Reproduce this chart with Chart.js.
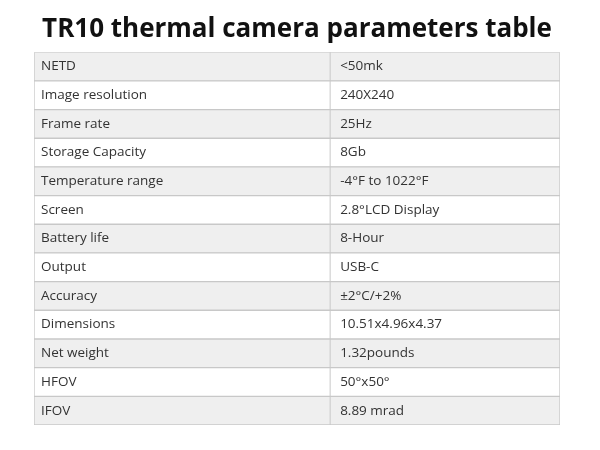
<!DOCTYPE html>
<html>
<head>
<meta charset="utf-8">
<script src="https://cdn.jsdelivr.net/npm/chart.js@4"></script>
<style>
  html, body { margin: 0; background: #fff; }
  #wrap { width: 600px; height: 450px; }
</style>
</head>
<body>
<div id="wrap"><canvas id="tableChart"></canvas></div>
<script>
// table content
const parameters = ['NETD', 'Image resolution', 'Frame rate', 'Storage Capacity', 'Temperature range',
    'Screen', 'Battery life', 'Output', 'Accuracy', 'Dimensions', 'Net weight', 'HFOV', 'IFOV'];
const values = ['<50mk', '240X240', '25Hz', '8Gb', '-4\u00b0F to 1022\u00b0F', '2.8\u00b0LCD Display',
    '8-Hour', 'USB-C', '\u00b12\u00b0C/+2%', '10.51x4.96x4.37', '1.32pounds', '50\u00b0x50\u00b0', '8.89 mrad'];
const rowFill = parameters.map(() => 1);

const cellText = {
    id: 'cellText',
    afterDatasetsDraw(chart) {
        const ctx = chart.ctx;
        const x = chart.scales.x, y = chart.scales.y;
        const splitX = x.getPixelForValue(0.563);
        ctx.save();
        ctx.strokeStyle = '#c8c8c8';
        ctx.lineWidth = 1;
        ctx.beginPath();
        ctx.moveTo(splitX, chart.chartArea.top);
        ctx.lineTo(splitX, chart.chartArea.bottom);
        ctx.stroke();
        ctx.fillStyle = '#333';
        ctx.font = '13.5px "Open Sans", sans-serif';
        ctx.textBaseline = 'middle';
        parameters.forEach((p, i) => {
            const py = y.getPixelForValue(i);
            ctx.fillText(p, x.getPixelForValue(0) + 7, py);
            ctx.fillText(values[i], x.getPixelForValue(0.582), py);
        });
        ctx.restore();
    }
};

new Chart(document.getElementById('tableChart').getContext('2d'), {
    type: 'bar',
    data: {
        labels: parameters,
        datasets: [{
            data: rowFill,
            backgroundColor: parameters.map((p, i) => i % 2 === 0 ? '#efefef' : '#ffffff'),
            borderColor: '#c8c8c8',
            borderWidth: 1,
            borderSkipped: false,
            barPercentage: 1,
            categoryPercentage: 1
        }]
    },
    options: {
        indexAxis: 'y',
        responsive: true,
        maintainAspectRatio: false,
        animation: false,
        layout: { padding: { left: 34, right: 40, bottom: 25, top: 0 } },
        scales: {
            x: { display: false, min: 0, max: 1 },
            y: { display: false }
        },
        plugins: {
            legend: { display: false },
            tooltip: { enabled: false },
            title: {
                display: true,
                text: 'TR10 thermal camera parameters table',
                color: '#111',
                font: { size: 26, weight: 'bold', family: '"Open Sans", sans-serif' },
                padding: { top: 14, bottom: 7 }
            }
        }
    },
    plugins: [cellText]
});
</script>
</body>
</html>
